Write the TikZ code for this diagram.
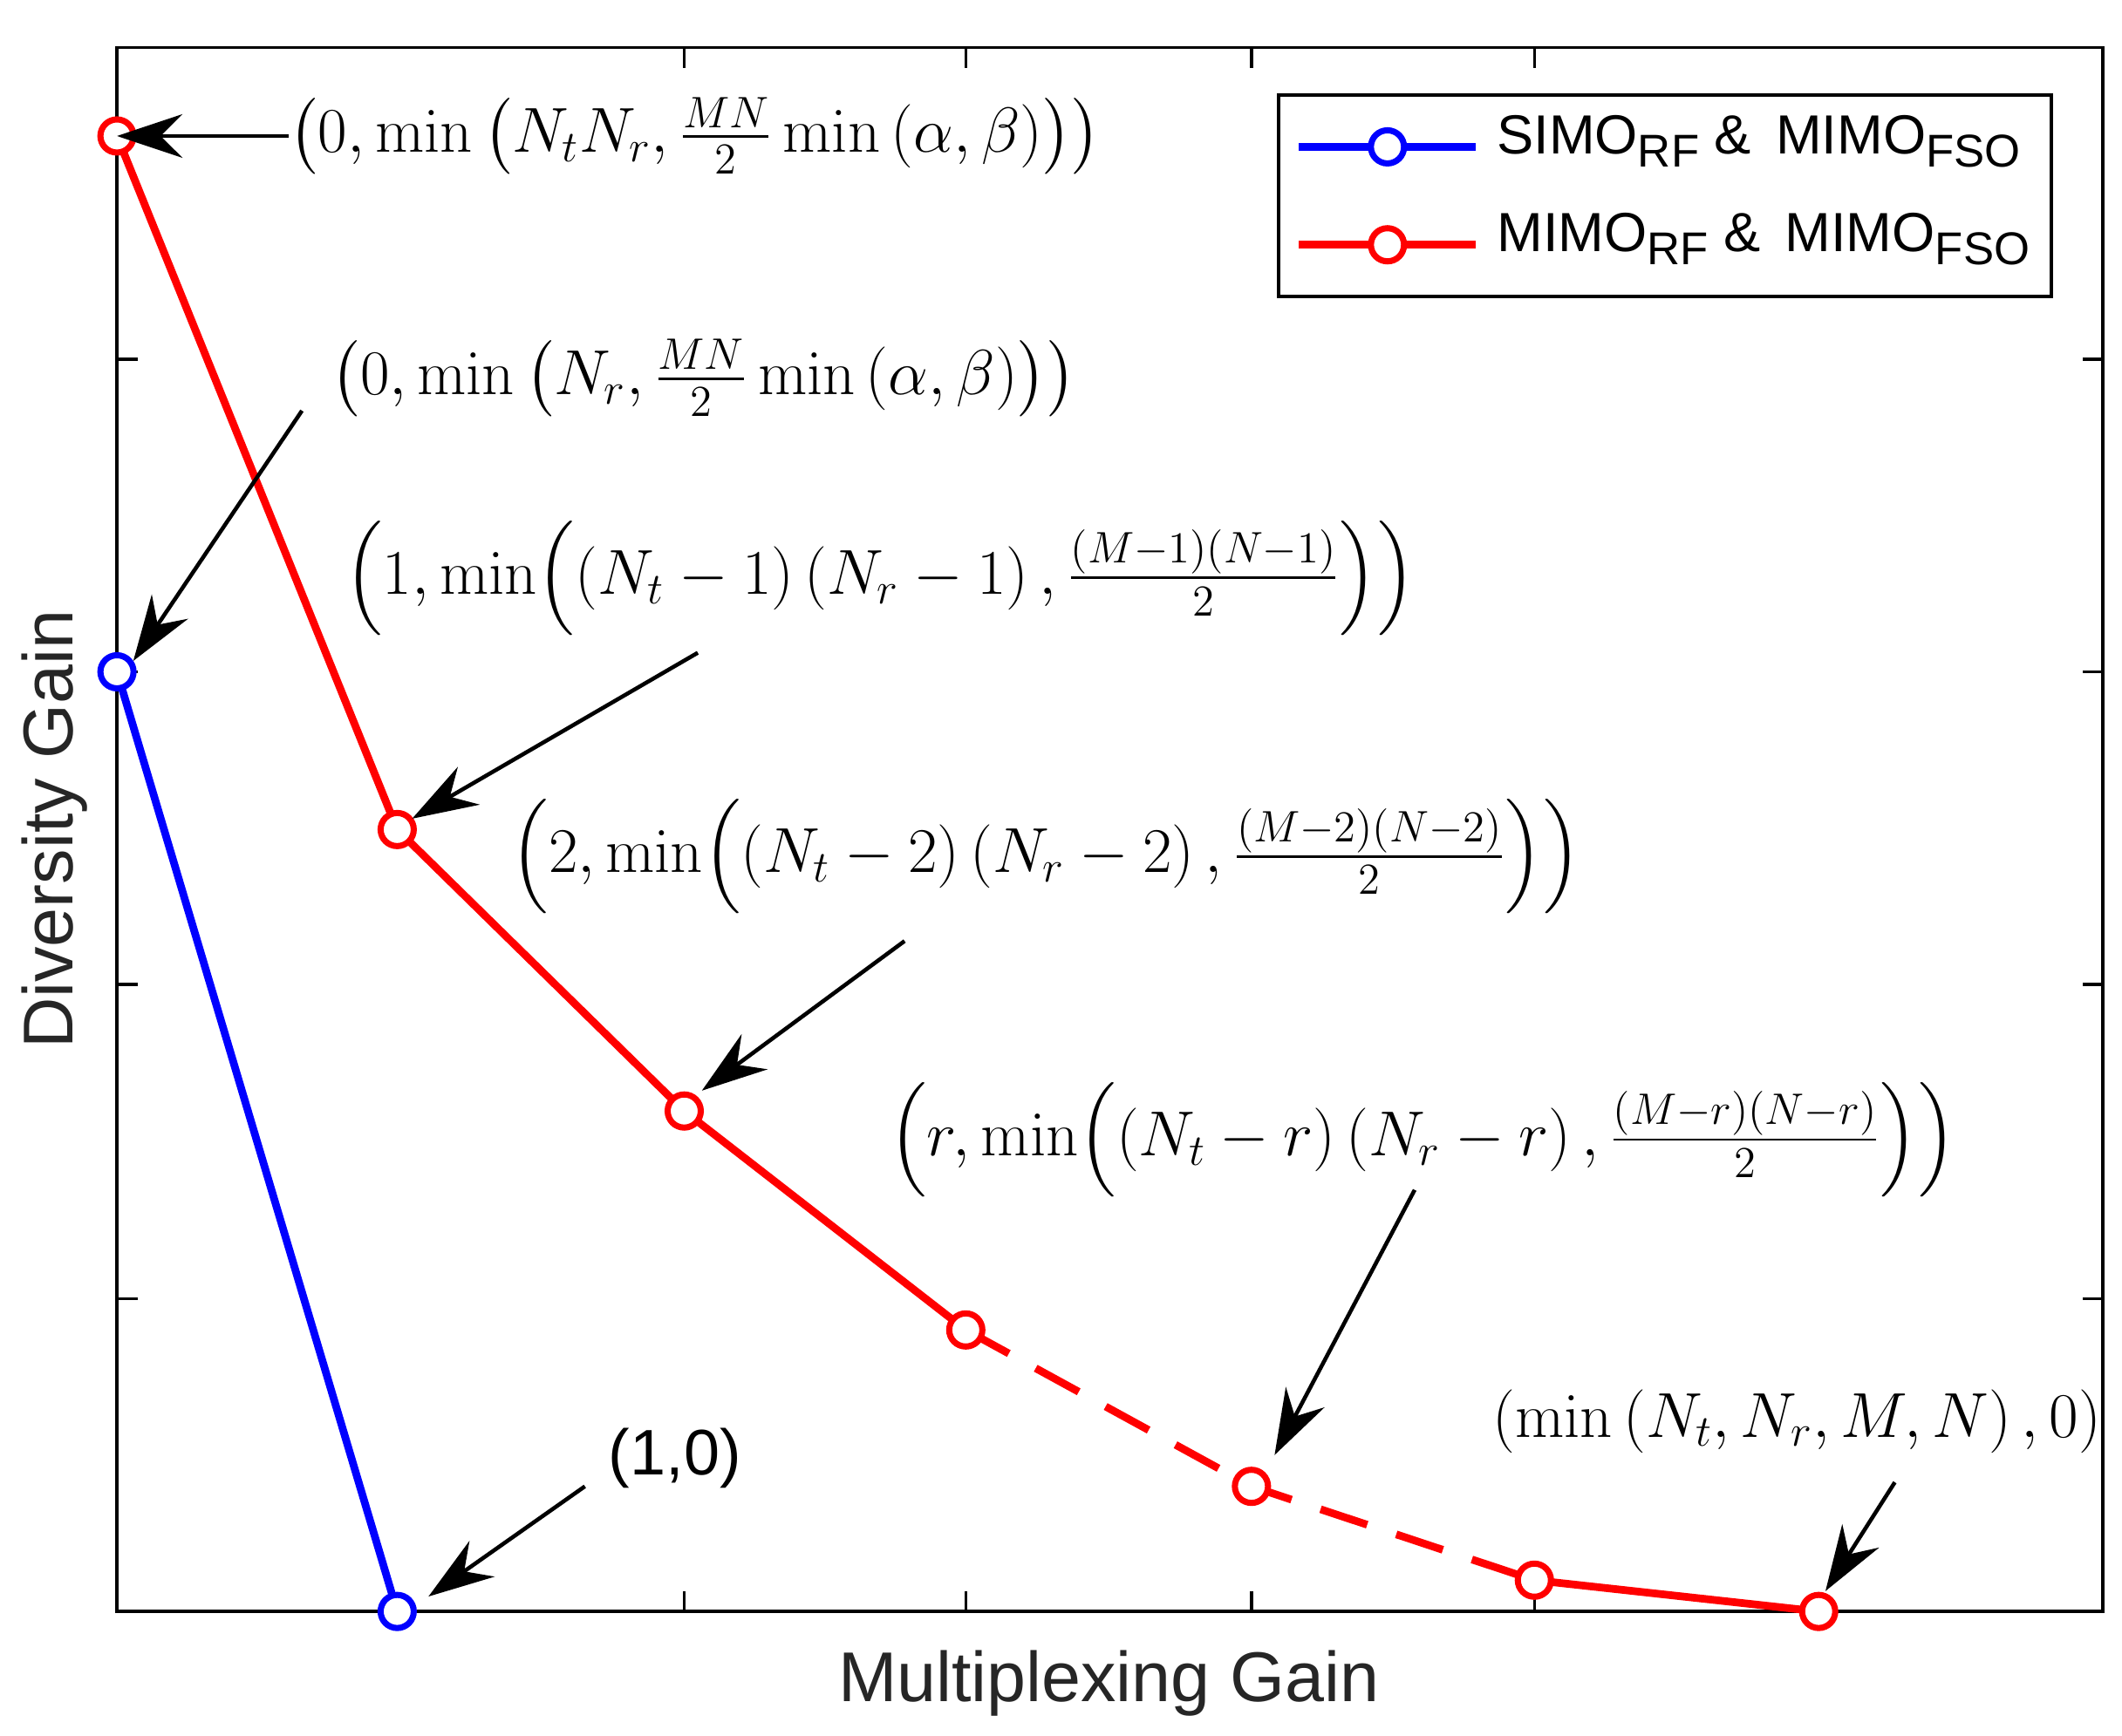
\documentclass[tikz,border=0pt]{standalone}
\usepackage{amsmath}
\usepackage[no-math]{fontspec}
\setmainfont{Liberation Sans}
\usetikzlibrary{arrows.meta}
\newcommand{\lsub}[1]{\raisebox{-0.45ex}{\fontsize{15}{17}\selectfont #1}}
\begin{document}
\begin{tikzpicture}[x=0.015596cm,y=-0.015596cm,
  ann/.style={font=\fontsize{21}{25}\selectfont,anchor=west,inner sep=0},
  arr/.style={line width=1.3pt,-{Stealth[length=0.75cm,width=0.5cm,inset=0.25cm]}},
  mk/.style={circle,line width=2pt,minimum size=0.38cm,inner sep=0,fill=white},
  rl/.style={red,line width=2.5pt},
  bl/.style={blue,line width=2.5pt}]
\useasboundingbox (0,0) rectangle (1560,1276);
% axes
\draw[line width=1pt] (86,35) rectangle (1546,1185);
\foreach \x in {503,710,920,1128}{\draw[line width=1pt] (\x,1185)--(\x,1170) (\x,35)--(\x,50);}
\foreach \y in {264,494,724,955}{\draw[line width=1pt] (86,\y)--(101,\y) (1546,\y)--(1531,\y);}
\node[font=\fontsize{23}{27}\selectfont,rotate=90,text=black!85] (yl) at (40,610) {Diversity Gain};
\node[font=\fontsize{23}{27}\selectfont,text=black!85] (xl) at (815,1238) {Multiplexing Gain};
% coordinates
\coordinate (r0) at (86,100); \coordinate (r1) at (292,610); \coordinate (r2) at (503,817);
\coordinate (r3) at (710,978); \coordinate (r4) at (920,1093); \coordinate (r5) at (1128,1162);
\coordinate (r6) at (1337,1185);
\coordinate (b0) at (86,494); \coordinate (b1) at (292,1185);
\draw[rl] (r0)--(r1)--(r2)--(r3);
\draw[rl,dash pattern=on 16pt off 10pt] (r3)--(r4)--(r5);
\draw[rl] (r5)--(r6);
\draw[bl] (b0)--(b1);
\foreach \p in {r0,r1,r2,r3,r4,r5,r6}{\node[mk,draw=red] at (\p) {};}
\foreach \p in {b0,b1}{\node[mk,draw=blue] at (\p) {};}
% annotations
\node[ann] (t1) at (212,100) {$\left(0,\min\left(N_tN_r,\frac{MN}{2}\min\left(\alpha,\beta\right)\right)\right)$};
\draw[arr] (t1.west) -- (r0);
\node[ann] (t2) at (243,278) {$\left(0,\min\left(N_r,\frac{MN}{2}\min\left(\alpha,\beta\right)\right)\right)$};
\coordinate (a2) at (222,302); \coordinate (e2) at (98,486);
\draw[arr] (a2) -- (e2);
\node[ann] (t3) at (253,425) {$\Bigl(1,\min\Bigl(\left(N_t-1\right)\left(N_r-1\right),\frac{(M-1)(N-1)}{2}\Bigr)\Bigr)$};
\coordinate (a3) at (513,480); \coordinate (e3) at (303,602);
\draw[arr] (a3) -- (e3);
\node[ann] (t4) at (375,630) {$\Bigl(2,\min\Bigl(\left(N_t-2\right)\left(N_r-2\right),\frac{(M-2)(N-2)}{2}\Bigr)\Bigr)$};
\coordinate (a4) at (665,692); \coordinate (e4) at (516,802);
\draw[arr] (a4) -- (e4);
\node[ann] (t5) at (653,838) {$\Bigl(r,\min\Bigl(\left(N_t-r\right)\left(N_r-r\right),\frac{(M-r)(N-r)}{2}\Bigr)\Bigr)$};
\coordinate (a5) at (1040,875); \coordinate (e5) at (937,1070);
\draw[arr] (a5) -- (e5);
\node[ann] (t6) at (447,1072) {(1,0)};
\coordinate (a6) at (430,1093); \coordinate (e6) at (315,1174);
\draw[arr] (a6) -- (e6);
\node[ann] (t7) at (1097,1045) {$\left(\min\left(N_t,N_r,M,N\right),0\right)$};
\coordinate (a7) at (1393,1090); \coordinate (e7) at (1342,1170);
\draw[arr] (a7) -- (e7);
% legend
\draw[line width=1pt,fill=white] (940,70) rectangle (1508,218);
\draw[bl] (955,108)--(1085,108); \node[mk,draw=blue] (lb) at (1020,108) {};
\draw[rl] (955,180)--(1085,180); \node[mk,draw=red] (lr) at (1020,180) {};
\node[ann,font=\fontsize{18}{22}\selectfont] (lt1) at (1100,104) {SIMO\lsub{RF} \& \,MIMO\lsub{FSO}};
\node[ann,font=\fontsize{18}{22}\selectfont] (lt2) at (1100,176) {MIMO\lsub{RF} \& \,MIMO\lsub{FSO}};
\end{tikzpicture}
\end{document}
